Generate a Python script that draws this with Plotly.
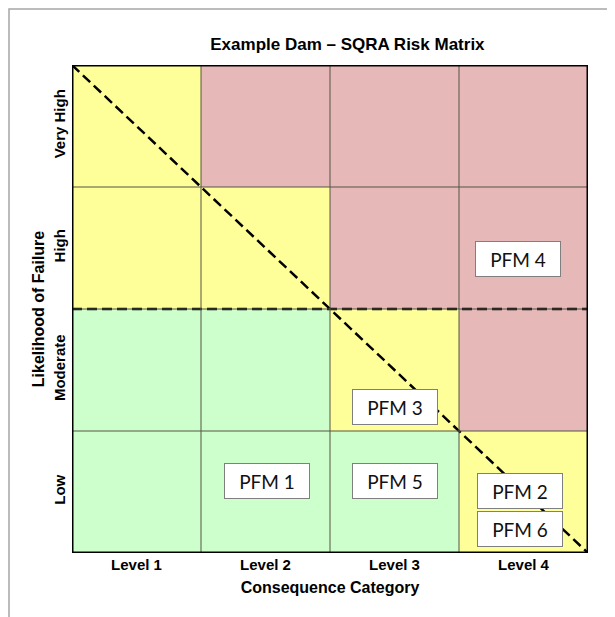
import plotly.graph_objects as go

# ---- data ----
consequence_labels = ["Level 1", "Level 2", "Level 3", "Level 4"]
likelihood_labels = ["Low", "Moderate", "High", "Very High"]  # bottom -> top
# risk zone per cell: 0 = low (green), 1 = intermediate (yellow), 2 = high (red); rows bottom -> top
risk_zone = [
    [0, 0, 0, 1],   # Low
    [0, 0, 1, 2],   # Moderate
    [1, 1, 2, 2],   # High
    [1, 2, 2, 2],   # Very High
]
pfm_names = ["PFM 4", "PFM 3", "PFM 1", "PFM 5", "PFM 2", "PFM 6"]
pfm_x = [3.46, 2.50, 1.51, 2.50, 3.47, 3.47]
pfm_y = [2.41, 1.20, 0.59, 0.59, 0.51, 0.20]

green, yellow, red = "#CCFFCC", "#FFFF99", "#E6B8B7"

fig = go.Figure()

fig.add_trace(go.Heatmap(
    z=risk_zone,
    x=[0.5, 1.5, 2.5, 3.5],
    y=[0.5, 1.5, 2.5, 3.5],
    zmin=0, zmax=2,
    colorscale=[[0, green], [0.333, green], [0.333, yellow], [0.667, yellow], [0.667, red], [1, red]],
    showscale=False, hoverinfo="skip",
))

# cell grid lines
for k in [1, 2, 3]:
    fig.add_shape(type="line", x0=k, x1=k, y0=0, y1=4, xref="x", yref="y",
                  line=dict(color="#555544", width=1))
    fig.add_shape(type="line", x0=0, x1=4, y0=k, y1=k, xref="x", yref="y",
                  line=dict(color="#555544", width=1))

# dashed threshold lines
fig.add_trace(go.Scatter(x=[0, 4], y=[4, 0], mode="lines",
                         line=dict(color="black", width=2.5, dash="10px,5px"),
                         hoverinfo="skip", showlegend=False))
fig.add_trace(go.Scatter(x=[0, 4], y=[2, 2], mode="lines",
                         line=dict(color="black", width=2.5, dash="10px,5px"),
                         hoverinfo="skip", showlegend=False))

# outer border of the matrix
fig.add_shape(type="rect", x0=0, x1=4, y0=0, y1=4, xref="x", yref="y",
              line=dict(color="black", width=3))

# outer frame of the picture
fig.add_shape(type="rect", xref="paper", yref="paper",
              x0=-0.1221, x1=1.0465, y0=-0.2, y1=1.1148,
              line=dict(color="#A6A6A6", width=1.5))

for name, px, py in zip(pfm_names, pfm_x, pfm_y):
    fig.add_annotation(x=px, y=py, xref="x", yref="y", text=name, showarrow=False,
                       font=dict(family="Lato, Open Sans, sans-serif", size=19, color="#111111"),
                       bgcolor="white", bordercolor="#7F7F7F", borderwidth=1,
                       width=80, height=30, borderpad=2)

fig.update_layout(
    width=607, height=609,
    margin=dict(l=64, r=27, t=57, b=64, autoexpand=False),
    paper_bgcolor="white", plot_bgcolor="white",
    showlegend=False,
    title=dict(text="<b>Example Dam – SQRA Risk Matrix</b>", x=(332 - 8) / 607, xanchor="center",
               xref="paper", y=1 - 36 / 609, yanchor="middle",
               font=dict(family="Liberation Sans, Arial", size=17, color="black")),
    font=dict(family="Liberation Sans, Arial", color="black"),
)
fig.update_xaxes(range=[0, 4], tickvals=[0.5, 1.5, 2.5, 3.5],
                 ticktext=["<b>%s</b>" % t for t in consequence_labels],
                 tickfont=dict(size=15), ticks="", showgrid=False, zeroline=False,
                 ticklabelstandoff=1,
                 title=dict(text="<b>Consequence Category</b>", font=dict(size=16), standoff=9),
                 fixedrange=True)
fig.update_yaxes(range=[0, 4], tickvals=[0.5, 1.5, 2.5, 3.5],
                 ticktext=["<b>%s</b>" % t for t in likelihood_labels],
                 tickfont=dict(size=15), tickangle=-90, ticks="", showgrid=False, zeroline=False,
                 ticklabelstandoff=3,
                 title=dict(text="<b>Likelihood of Failure</b>", font=dict(size=16), standoff=2),
                 fixedrange=True)

fig.write_html("out.html")
